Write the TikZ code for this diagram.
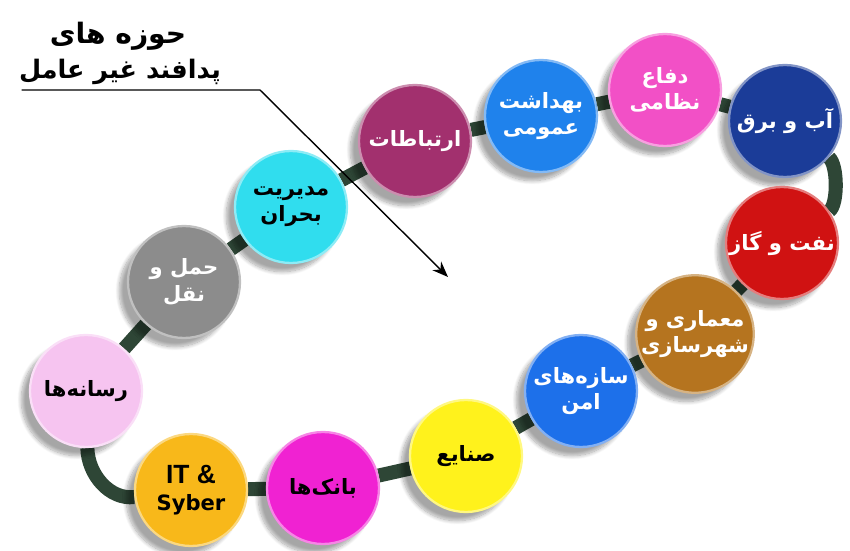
\documentclass[tikz,border=0pt]{standalone}
\usepackage{fontspec}
\setmainfont{DejaVu Sans}
\newfontfamily\arabicfont[Script=Arabic]{DejaVu Sans}
\newfontfamily\latinfont{Liberation Sans}
\TeXXeTstate=1
\usetikzlibrary{arrows.meta,shadows.blur,backgrounds}
\definecolor{chain}{HTML}{2E4636}
\definecolor{cRasane}{HTML}{F6C4F0}
\definecolor{cHaml}{HTML}{8C8C8C}
\definecolor{cModir}{HTML}{30DDEE}
\definecolor{cErtebat}{HTML}{A2306E}
\definecolor{cBehdasht}{HTML}{1F82EC}
\definecolor{cDefa}{HTML}{F250C6}
\definecolor{cAb}{HTML}{1B3C98}
\definecolor{cNaft}{HTML}{D01212}
\definecolor{cMemari}{HTML}{B5741F}
\definecolor{cSaze}{HTML}{1D70EA}
\definecolor{cSanaye}{HTML}{FFF21C}
\definecolor{cBank}{HTML}{F022D2}
\definecolor{cIT}{HTML}{F8B81A}
\newcommand{\fa}[1]{{\arabicfont\bfseries\beginR #1\endR}}
\tikzset{
 ball/.style={circle,minimum size=2.24cm,inner sep=0pt,align=center,fill=#1,draw=#1!55!white,line width=1.3pt,text=white,
   blur shadow={shadow xshift=-5pt,shadow yshift=-5pt,shadow opacity=35,shadow blur steps=10}},
 link/.style={draw=chain,line width=8pt}
}
\begin{document}
\begin{tikzpicture}[x=0.02cm,y=-0.02cm,font=\bfseries\fontsize{12}{15}\selectfont,line join=round,line cap=round]
 \useasboundingbox (0,0) rectangle (850,551);
 % title
 \node (t1) at (118,36) {\fontsize{16}{19}\selectfont\fa{حوزه های}};
 \node (t2) at (120,72) {\fontsize{14.5}{17}\selectfont\fa{پدافند غیر عامل}};
 \coordinate (u0) at (22,90); \coordinate (u1) at (260,90); \coordinate (tip) at (448,277);
 \draw[thick,-{Stealth[length=9pt,width=7pt]}] (u0)--(u1)--(tip);
 % circles
 \node[ball=cRasane,text=black] (rasane) at (86,391) {\fa{رسانه‌ها}};
 \node[ball=cHaml] (haml) at (184,282) {\fa{حمل و}\\\fa{نقل}};
 \node[ball=cModir,text=black] (modir) at (291,207) {\fa{مدیریت}\\\fa{بحران}};
 \node[ball=cErtebat] (ertebat) at (415,141) {\fa{ارتباطات}};
 \node[ball=cBehdasht] (behdasht) at (541,116) {\fa{بهداشت}\\\fa{عمومی}};
 \node[ball=cDefa] (defa) at (665,90) {\fa{دفاع}\\\fa{نظامی}};
 \node[ball=cAb] (ab) at (785,121) {\fa{آب و برق}};
 \node[ball=cNaft] (naft) at (782,243) {\fa{نفت و گاز}};
 \node[ball=cMemari] (memari) at (695,334) {\fa{معماری و}\\\fa{شهرسازی}};
 \node[ball=cSaze] (saze) at (581,391) {\fa{سازه‌های}\\\fa{امن}};
 \node[ball=cSanaye,text=black] (sanaye) at (466,456) {\fa{صنایع}};
 \node[ball=cBank,text=black] (bank) at (323,488) {\fa{بانک‌ها}};
 \node[ball=cIT,text=black] (it) at (191,490) {\latinfont\fontsize{15}{16}\selectfont IT \&\\Syber};
 % chain behind
 \begin{scope}[on background layer]
 \draw[link] (rasane)--(haml)--(modir)--(ertebat)--(behdasht)--(defa)--(ab)
  .. controls (838,165) and (838,205) .. (naft)--(memari)--(saze)--(sanaye)--(bank)--(it)
  .. controls (110,500) and (88,475) .. (rasane);
 \end{scope}
\end{tikzpicture}
\end{document}
